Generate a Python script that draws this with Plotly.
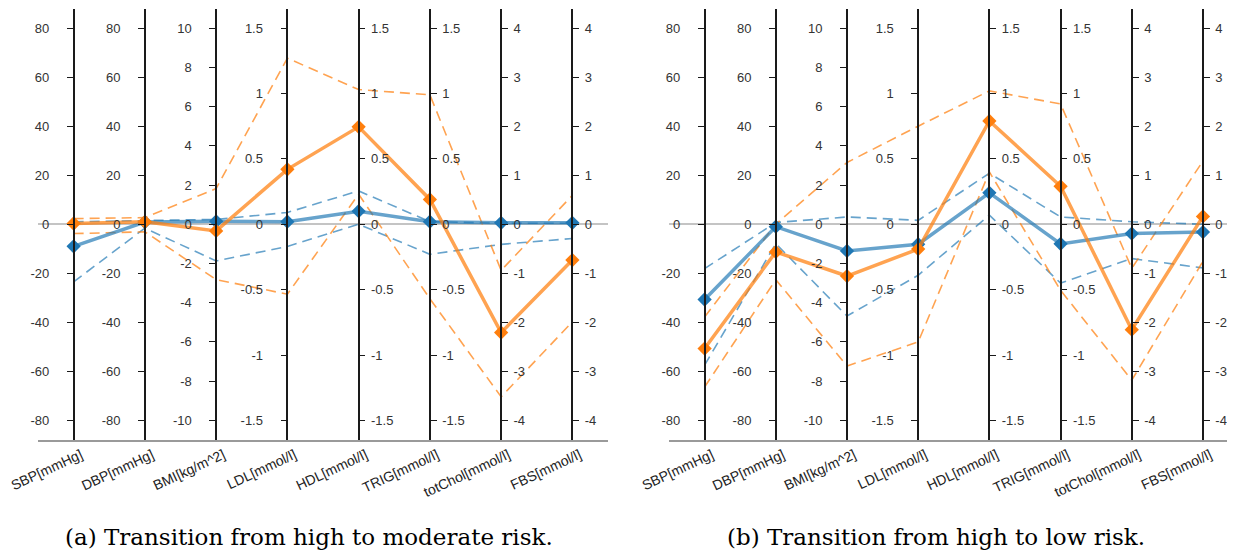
import plotly.graph_objects as go

# ---------------- data ----------------
AXES = ["SBP[mmHg]", "DBP[mmHg]", "BMI[kg/m^2]", "LDL[mmol/l]",
        "HDL[mmol/l]", "TRIG[mmol/l]", "totChol[mmol/l]", "FBS[mmol/l]"]
AXIS_MAX = [80, 80, 10, 1.5, 1.5, 1.5, 4, 4]
AXIS_STEP = [20, 20, 2, 0.5, 0.5, 0.5, 1, 1]

# panel (a): high -> moderate risk
a_blue_mean = [-9.0, 0.9, 0.15, 0.02, 0.10, 0.02, 0.03, 0.03]
a_blue_hi = [1.0, 1.5, 0.25, 0.09, 0.255, 0.02, 0.02, 0.02]
a_blue_lo = [-23.5, -1.6, -1.87, -0.17, 0.0, -0.23, -0.41, -0.29]
a_orange_mean = [0.3, 1.0, -0.34, 0.42, 0.745, 0.19, -2.21, -0.73]
a_orange_hi = [2.3, 2.7, 1.82, 1.27, 1.03, 0.99, -0.94, 0.59]
a_orange_lo = [-3.8, -3.1, -2.82, -0.535, 0.23, -0.57, -3.52, -1.99]

# panel (b): high -> low risk
b_blue_mean = [-30.7, -1.0, -1.36, -0.153, 0.24, -0.15, -0.19, -0.16]
b_blue_hi = [-18.1, 0.7, 0.37, 0.03, 0.39, 0.056, 0.05, 0.0]
b_blue_lo = [-57.5, -7.9, -4.68, -0.39, 0.07, -0.45, -0.70, -0.89]
b_orange_mean = [-50.7, -11.3, -2.64, -0.19, 0.79, 0.29, -2.15, 0.16]
b_orange_hi = [-37.8, 0.0, 3.15, 0.75, 1.02, 0.92, -0.9, 1.29]
b_orange_lo = [-66.4, -22.6, -7.23, -0.90, 0.40, -0.505, -3.18, -0.755]

CAPTIONS = ["(a) Transition from high to moderate risk.",
            "(b) Transition from high to low risk."]

# ---------------- styling / layout ----------------
OFF = 8                      # page body margin
W, H = 1235 - OFF, 551 - OFF
PAD = 1.1
BLUE_LINE = "rgba(31,119,180,0.68)"
BLUE_MK = "#1f77b4"
ORANGE_LINE = "rgba(255,127,14,0.72)"
ORANGE_MK = "#ff7f0e"
FONT = "Liberation Sans"


def px_x(p):
    return (p - OFF) / W


def px_y(p):
    return 1 - (p - OFF) / H


y_dom = [px_y(440), px_y(8.5)]
panels = [
    dict(xdom=[px_x(38), px_x(608)], xr=[-0.5, 7.5], cap_x=309,
         data=[(a_blue_mean, a_blue_hi, a_blue_lo, BLUE_LINE, BLUE_MK),
               (a_orange_mean, a_orange_hi, a_orange_lo, ORANGE_LINE, ORANGE_MK)]),
    dict(xdom=[px_x(669), 1.0], xr=[-0.5, 7.45], cap_x=936,
         data=[(b_blue_mean, b_blue_hi, b_blue_lo, BLUE_LINE, BLUE_MK),
               (b_orange_mean, b_orange_hi, b_orange_lo, ORANGE_LINE, ORANGE_MK)]),
]


def norm(vals):
    return [v / m for v, m in zip(vals, AXIS_MAX)]


def fmt(v):
    return "%g" % v


fig = go.Figure()
layout = dict(
    width=W, height=H, template="none", autosize=False,
    margin=dict(l=0, r=0, t=0, b=0, pad=0),
    paper_bgcolor="white", plot_bgcolor="rgba(0,0,0,0)",
    showlegend=False, annotations=[],
)

xs = list(range(len(AXES)))
next_y = 3
for p, panel in enumerate(panels):
    xname = "x" if p == 0 else "x2"
    yname = "y" if p == 0 else "y2"
    xkey = "xaxis" if p == 0 else "xaxis2"
    ykey = "yaxis" if p == 0 else "yaxis2"

    layout[xkey] = dict(
        domain=panel["xdom"], range=panel["xr"], anchor=yname,
        showline=True, linecolor="#9a9a9a", linewidth=1.5,
        ticks="", showgrid=False, zeroline=False,
        tickmode="array", tickvals=[k + 0.1 for k in xs], ticktext=AXES,
        tickangle=-25, tickfont=dict(family=FONT, size=14, color="#222"),
        ticklabeloverflow="allow", fixedrange=True,
    )
    layout[ykey] = dict(
        domain=y_dom, range=[-PAD, PAD], anchor=xname,
        showline=False, showticklabels=False, ticks="", showgrid=False,
        zeroline=True, zerolinecolor="#c4c4c4", zerolinewidth=1.5,
    )

    # parallel axes
    x0, x1 = panel["xdom"]
    r0, r1 = panel["xr"]
    for k, name in enumerate(AXES):
        m, st = AXIS_MAX[k], AXIS_STEP[k]
        n = int(round(m / st))
        tv = [i * st for i in range(-n, n + 1)]
        pos = x0 + (k - r0) / (r1 - r0) * (x1 - x0)
        side = "left" if k < 4 else "right"
        yk = "y%d" % next_y
        layout["yaxis%d" % next_y] = dict(
            range=[-PAD * m, PAD * m], anchor="free", position=pos,
            overlaying=yname, side=side,
            showline=True, linecolor="#1a1a1a", linewidth=1.6,
            ticks="outside", ticklen=6, tickwidth=1.4, tickcolor="#1a1a1a",
            tickmode="array", tickvals=tv, ticktext=[fmt(v) for v in tv],
            tickfont=dict(family=FONT, size=13, color="#333"),
            ticklabelstandoff=15 if side == "left" else 3,
            showgrid=False, zeroline=False,
        )
        fig.add_trace(go.Scatter(x=[None], y=[None], xaxis=xname, yaxis=yk,
                                 showlegend=False, hoverinfo="skip"))
        next_y += 1

    # data
    for mean, hi, lo, lcol, mcol in panel["data"]:
        for bound in (hi, lo):
            fig.add_trace(go.Scatter(
                x=xs, y=norm(bound), xaxis=xname, yaxis=yname, mode="lines",
                line=dict(color=lcol, width=1.6, dash="10px,6px"),
                hoverinfo="skip"))
    for mean, hi, lo, lcol, mcol in panel["data"]:
        fig.add_trace(go.Scatter(
            x=xs, y=norm(mean), xaxis=xname, yaxis=yname, mode="lines+markers",
            line=dict(color=lcol, width=3.5),
            marker=dict(symbol="diamond", size=11, color=mcol),
            hoverinfo="skip"))

    layout["annotations"].append(dict(
        text=CAPTIONS[p], xref="paper", yref="paper",
        x=px_x(panel["cap_x"]), y=px_y(537), xanchor="center", yanchor="middle",
        showarrow=False, font=dict(family="DejaVu Serif", size=23, color="black")))

fig.update_layout(**layout)
fig.write_html("out.html")
